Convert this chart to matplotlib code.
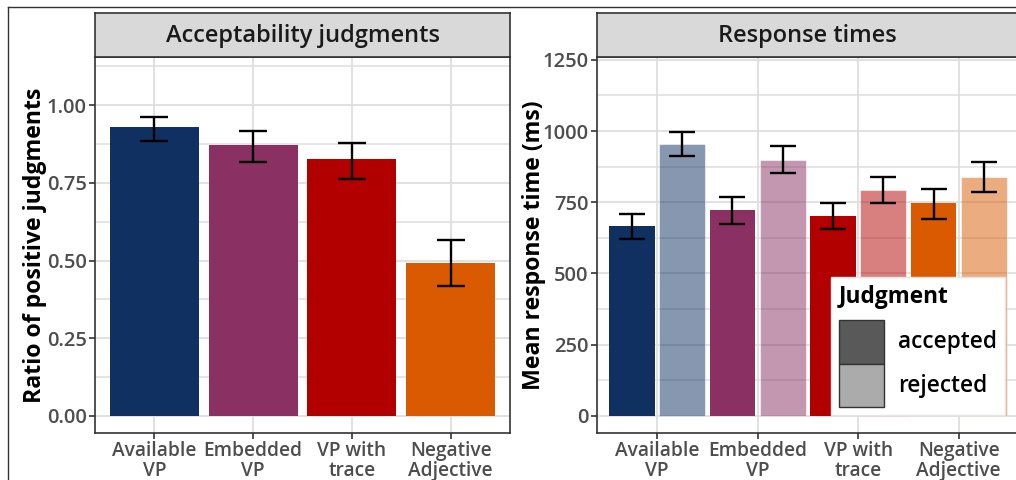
import numpy as np
import matplotlib.pyplot as plt
from matplotlib.patches import Patch
from matplotlib.lines import Line2D
from matplotlib.ticker import MultipleLocator

plt.rcParams['font.family'] = ['Open Sans', 'DejaVu Sans']

categories = ['Available\nVP', 'Embedded\nVP', 'VP with\ntrace', 'Negative\nAdjective']
colors = ['#113062', '#8B3063', '#B20000', '#D95A00']

# acceptability judgments
ratio = [0.929, 0.871, 0.826, 0.491]
ratio_lo = [0.884, 0.817, 0.762, 0.418]
ratio_hi = [0.961, 0.916, 0.878, 0.567]

# response times (ms)
rt_accepted = [667, 723, 702, 749]
rt_accepted_lo = [622, 674, 657, 692]
rt_accepted_hi = [710, 769, 746, 798]
rt_rejected = [953, 899, 792, 838]
rt_rejected_lo = [911, 854, 748, 787]
rt_rejected_hi = [997, 946, 837, 892]

W, H = 1016, 480
GRID = '#DEDEDE'
DARK = '#333333'


def px_axes(fig, x0, y0, x1, y1):
    # pixel box (top-left origin) -> figure axes
    return fig.add_axes([x0 / W, 1 - y1 / H, (x1 - x0) / W, (y1 - y0) / H])


def style_panel(ax, ylim, major, minor):
    ax.set_xlim(0.4, 4.6)
    ax.set_ylim(*ylim)
    ax.yaxis.set_major_locator(MultipleLocator(major))
    ax.yaxis.set_minor_locator(MultipleLocator(minor))
    ax.set_xticks(np.arange(1, 5))
    ax.set_xticklabels(categories, linespacing=1.0)
    ax.grid(True, which='major', color=GRID, lw=1.3)
    ax.grid(True, which='minor', axis='y', color=GRID, lw=1.1)
    ax.set_axisbelow(True)
    for s in ax.spines.values():
        s.set_color(DARK)
        s.set_linewidth(1.2)
    ax.tick_params(which='major', length=4, width=1.2, color=DARK,
                   labelcolor='#4D4D4D', pad=2)
    ax.tick_params(axis='y', labelsize=14.5)
    ax.tick_params(axis='x', labelsize=13.8)
    ax.tick_params(which='minor', length=0)
    for lab in ax.get_xticklabels() + ax.get_yticklabels():
        lab.set_fontweight('semibold')


def strip(fig, x0, x1, title):
    s = px_axes(fig, x0, 13, x1, 57)
    s.set_facecolor('#D9D9D9')
    s.set_xticks([])
    s.set_yticks([])
    for sp in s.spines.values():
        sp.set_color(DARK)
        sp.set_linewidth(1.2)
    s.text(0.5, 0.47, title, ha='center', va='center', fontsize=17,
           fontweight='semibold', color='#1A1A1A', transform=s.transAxes)


fig = plt.figure(figsize=(W / 100, H / 100), dpi=100)
x = np.arange(1, 5)

# left panel
ax1 = px_axes(fig, 95, 57, 510, 433)
style_panel(ax1, (-0.055, 1.155), 0.25, 0.125)
ax1.bar(x, ratio, width=0.9, color=colors)
r = np.array(ratio)
ax1.errorbar(x, r, yerr=[r - np.array(ratio_lo), np.array(ratio_hi) - r],
             fmt='none', ecolor='black', elinewidth=1.7, capsize=10.4, capthick=1.7)
ax1.yaxis.set_major_formatter(lambda v, p: f'{v:.2f}')
ax1.set_ylabel('Ratio of positive judgments', fontsize=16.7, fontweight='bold', labelpad=0)
strip(fig, 95, 510, 'Acceptability judgments')

# right panel
ax2 = px_axes(fig, 596.7, 57, 1019, 433)
style_panel(ax2, (-60, 1260), 250, 125)
acc = np.array(rt_accepted)
rej = np.array(rt_rejected)
ax2.bar(x - 0.25, acc, width=0.455, color=colors)
ax2.bar(x + 0.25, rej, width=0.455, color=colors, alpha=0.5,
        edgecolor=(1, 1, 1, 0.35), lw=0.8)
ax2.errorbar(x - 0.25, acc, yerr=[acc - np.array(rt_accepted_lo), np.array(rt_accepted_hi) - acc],
             fmt='none', ecolor='black', elinewidth=1.7, capsize=9.2, capthick=1.7)
ax2.errorbar(x + 0.25, rej, yerr=[rej - np.array(rt_rejected_lo), np.array(rt_rejected_hi) - rej],
             fmt='none', ecolor='black', elinewidth=1.7, capsize=9.2, capthick=1.7)
ax2.set_ylabel('Mean response time (ms)', fontsize=16.7, fontweight='bold', labelpad=-3)
strip(fig, 596.7, 1019, 'Response times')

handles = [Patch(facecolor='#595959', edgecolor=DARK, lw=1),
           Patch(facecolor='#ABABAB', edgecolor=DARK, lw=1)]
leg = ax2.legend(handles, ['accepted', 'rejected'], title='Judgment',
                 loc='upper left', bbox_to_anchor=(0.554, 0.4157),
                 frameon=True, fancybox=False, framealpha=1, edgecolor='#E5E5E5',
                 fontsize=16.3, handlelength=1.99, handleheight=2.6,
                 labelspacing=0, handletextpad=0.65, borderpad=0.35,
                 alignment='left', borderaxespad=0)
leg.get_title().set_fontsize(16.3)
leg.get_title().set_fontweight('bold')
for t in leg.get_texts():
    t.set_fontweight('semibold')
# gap between the title and the keys
leg._legend_box.sep = 8

# outer frame lines
fig.add_artist(Line2D([8 / W, 1], [1 - 7 / H] * 2, color=DARK, lw=1))
fig.add_artist(Line2D([8.3 / W] * 2, [0, 1 - 7 / H], color=DARK, lw=1))

fig.savefig('out.png', dpi=100)
